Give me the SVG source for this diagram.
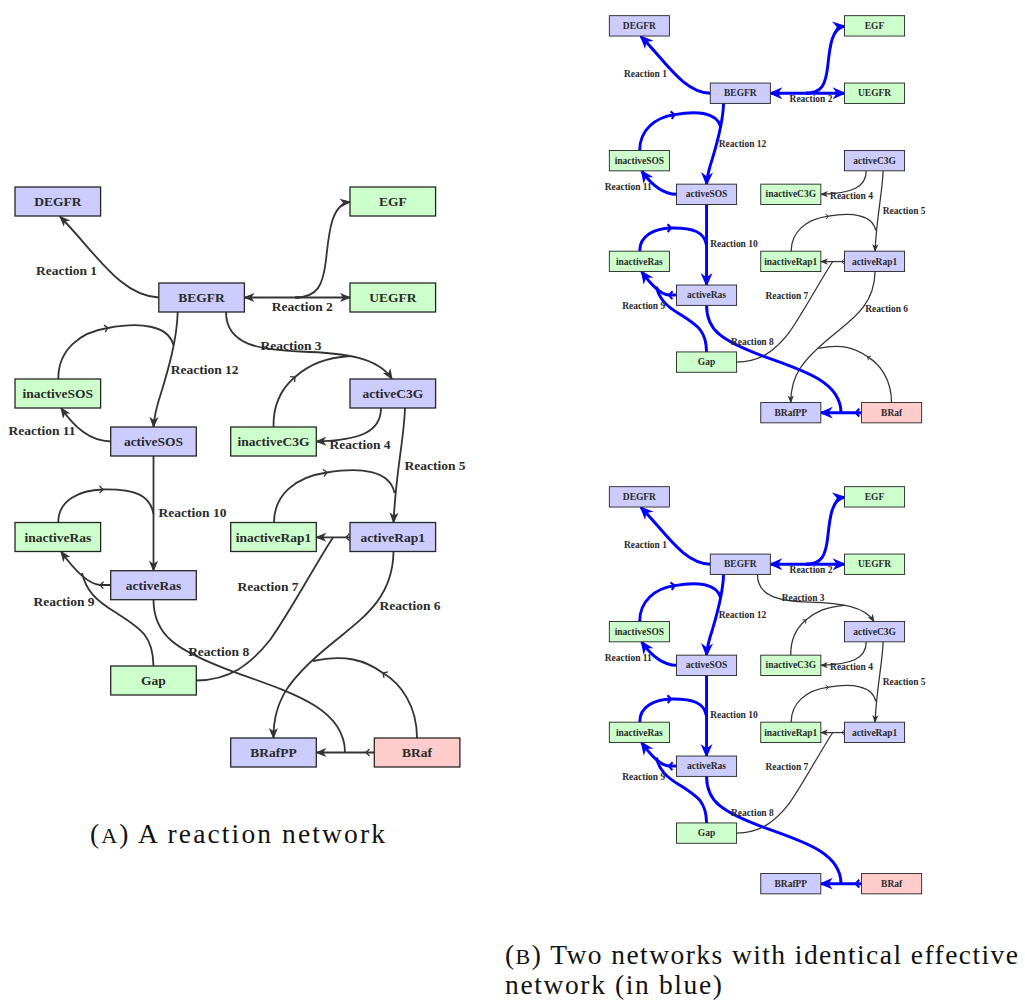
<svg xmlns="http://www.w3.org/2000/svg" width="1025" height="1001" viewBox="0 0 1025 1001">
<style>
.bl{fill:#ccccff;stroke:#262626;stroke-width:1.3}
.gr{fill:#ccffcc;stroke:#262626;stroke-width:1.3}
.rd{fill:#ffcccc;stroke:#262626;stroke-width:1.3}
.n,.l{font-family:"Liberation Serif",serif;font-weight:bold;font-size:13.5px;fill:#2a2a2a}
.n{text-anchor:middle}
.l{text-anchor:middle}
.e{fill:none;stroke:#333;stroke-width:1.8}
.b{fill:none;stroke:#0000ff;stroke-width:4.2}
.ea{marker-end:url(#arrD)}
.et{marker-mid:url(#tickD)}
.ba{marker-end:url(#arrB)}
.bt{marker-mid:url(#tickB)}
.cap{font-family:"Liberation Serif",serif;font-size:27.5px;fill:#111}
marker{overflow:visible}
</style>
<defs>
<marker id="arrD" viewBox="-11 -5 13 10" markerWidth="13" markerHeight="10" refX="0" refY="0" orient="auto" markerUnits="userSpaceOnUse"><path d="M1.2,0 L-10,-4.5 L-7,0 L-10,4.5 Z" fill="#333"/></marker>
<marker id="tickD" viewBox="-5 -5 7 10" markerWidth="7" markerHeight="10" refX="0" refY="0" orient="auto" markerUnits="userSpaceOnUse"><path d="M-3.5,-3.5 L0,0 L-3.5,3.5" fill="none" stroke="#333" stroke-width="1.3"/></marker>
<marker id="arrB" viewBox="-20 -9 23 18" markerWidth="23" markerHeight="18" refX="0" refY="0" orient="auto" markerUnits="userSpaceOnUse"><path d="M2.5,0 L-17,-8.5 L-11,0 L-17,8.5 Z" fill="#0000ff"/></marker>
<marker id="tickB" viewBox="-8 -8 10 16" markerWidth="10" markerHeight="16" refX="0" refY="0" orient="auto" markerUnits="userSpaceOnUse"><path d="M-5,-5.5 L0,0 L-5,5.5" fill="none" stroke="#0000ff" stroke-width="3"/></marker>
</defs>
<rect width="1025" height="1001" fill="#fff"/>

<!-- ===== Network A ===== -->
<g id="netA">
<g id="A-edges">
<path class="e ea" d="M158.8,297.5 C120,296 95,252 60,216.5"/>
<path class="e ea" d="M300,297.5 L244.4,297.5"/>
<path class="e ea" d="M295,297.5 L350,297.5"/>
<path class="e ea" d="M295,297.5 C318,297.5 323,285 326,260 C329,230 332,204 350,202"/>
<path class="e ea" d="M226,312 C226,345 260,350 300,351.5 C345,353 378,357 392,379"/>
<path class="e et" d="M273.5,427 C273,405 282,388 295,377 C310,364 325,358 350,356"/>
<path class="e ea" d="M381,408 C381,432 360,440 316.3,441.5"/>
<path class="e ea" d="M405,408 C404,440 396,470 393.5,522.5"/>
<path class="e et" d="M274,522.5 C274,495 295,477 327,472.5 C360,467 390,470 394.5,493"/>
<path class="e ea" d="M393.5,551.5 C393,600 360,620 330,645 C290,678 273,700 273.5,738"/>
<path class="e et" d="M417,738 C417,705 400,683 383,673 C365,660 345,654 313,661"/>
<path class="e et ea" d="M350,537.3 L346,537.3 L316.3,537.3"/>
<path class="e" d="M196.3,680.5 C230,680 250,665 270,640 C290,612 315,565 333,537.5"/>
<path class="e et ea" d="M374.3,752.5 L366,752.5 L316.3,752.5"/>
<path class="e" d="M153.5,599.7 C153.5,635 175,650 233,671.7 C290,692 345,708 345,752.5"/>
<path class="e et ea" d="M110.7,585 L100,585 C88,584 75,571 61,551.5"/>
<path class="e" d="M153.5,666 C153,635 140,628 115,612 C95,600 86,590 82,573"/>
<path class="e ea" d="M153.5,456 L153.5,570.7"/>
<path class="e et" d="M58.3,522.5 C58,500 80,490 103,489.5 C135,489 150,495 153.5,514"/>
<path class="e ea" d="M110.7,441.5 C90,441 75,428 61,408"/>
<path class="e ea" d="M177.7,312 C177,340 168,370 162,390 C157,405 154,415 153.5,427"/>
<path class="e et" d="M58.3,379 C58,350 80,332 108,328 C140,322 168,325 173.5,345"/>
</g>
<g id="A-labels">
<text class="l" x="66.5" y="275">Reaction 1</text>
<text class="l" x="302.3" y="310.5">Reaction 2</text>
<text class="l" x="291" y="349.5">Reaction 3</text>
<text class="l" x="360" y="448.8">Reaction 4</text>
<text class="l" x="435" y="469.5">Reaction 5</text>
<text class="l" x="410" y="609.5">Reaction 6</text>
<text class="l" x="268" y="590.5">Reaction 7</text>
<text class="l" x="218.7" y="655.5">Reaction 8</text>
<text class="l" x="64" y="605.5">Reaction 9</text>
<text class="l" x="192.5" y="517">Reaction 10</text>
<text class="l" x="42" y="435">Reaction 11</text>
<text class="l" x="204.7" y="373.5">Reaction 12</text>
</g>
<g id="A-DEGFR"><rect class="bl" x="15" y="187" width="85.6" height="29"/><text class="n" x="57.8" y="206">DEGFR</text></g>
<g id="A-EGF"><rect class="gr" x="350" y="187" width="85.6" height="29"/><text class="n" x="392.8" y="206">EGF</text></g>
<g id="A-BEGFR"><rect class="bl" x="158.8" y="283" width="85.6" height="29"/><text class="n" x="201.6" y="302">BEGFR</text></g>
<g id="A-UEGFR"><rect class="gr" x="350" y="283" width="85.6" height="29"/><text class="n" x="392.8" y="302">UEGFR</text></g>
<g id="A-inactiveSOS"><rect class="gr" x="15" y="379" width="85.6" height="29"/><text class="n" x="57.8" y="398">inactiveSOS</text></g>
<g id="A-activeSOS"><rect class="bl" x="110.7" y="427" width="85.6" height="29"/><text class="n" x="153.5" y="446">activeSOS</text></g>
<g id="A-activeC3G"><rect class="bl" x="350" y="379" width="85.6" height="29"/><text class="n" x="392.8" y="398">activeC3G</text></g>
<g id="A-inactiveC3G"><rect class="gr" x="230.7" y="427" width="85.6" height="29"/><text class="n" x="273.5" y="446">inactiveC3G</text></g>
<g id="A-inactiveRas"><rect class="gr" x="15" y="522.5" width="85.6" height="29"/><text class="n" x="57.8" y="541.5">inactiveRas</text></g>
<g id="A-activeRas"><rect class="bl" x="110.7" y="570.7" width="85.6" height="29"/><text class="n" x="153.5" y="589.7">activeRas</text></g>
<g id="A-inactiveRap1"><rect class="gr" x="230.7" y="522.5" width="85.6" height="29"/><text class="n" x="273.5" y="541.5">inactiveRap1</text></g>
<g id="A-activeRap1"><rect class="bl" x="350" y="522.5" width="85.6" height="29"/><text class="n" x="392.8" y="541.5">activeRap1</text></g>
<g id="A-Gap"><rect class="gr" x="110.7" y="666" width="85.6" height="29"/><text class="n" x="153.5" y="685">Gap</text></g>
<g id="A-BRafPP"><rect class="bl" x="230.7" y="738" width="85.6" height="29"/><text class="n" x="273.5" y="757">BRafPP</text></g>
<g id="A-BRaf"><rect class="rd" x="374.3" y="738" width="85.6" height="29"/><text class="n" x="417.1" y="757">BRaf</text></g>
</g>

<!-- ===== Network B1 (top right) ===== -->
<g id="netB1" transform="translate(598.8,-115.6) scale(0.702)">
<g id="B1-edges">
<path class="b ba" d="M158.8,297.5 C120,296 95,252 60,216.5"/>
<path class="b ba" d="M300,297.5 L244.4,297.5"/>
<path class="b ba" d="M295,297.5 L350,297.5"/>
<path class="b ba" d="M295,297.5 C318,297.5 323,285 326,260 C329,230 332,204 350,202"/>
<path class="e ea" d="M381,408 C381,432 360,440 316.3,441.5"/>
<path class="e ea" d="M405,408 C404,440 396,470 393.5,522.5"/>
<path class="e et" d="M274,522.5 C274,495 295,477 327,472.5 C360,467 390,470 394.5,493"/>
<path class="e ea" d="M393.5,551.5 C393,600 360,620 330,645 C290,678 273,700 273.5,738"/>
<path class="e et" d="M417,738 C417,705 400,683 383,673 C365,660 345,654 313,661"/>
<path class="e et ea" d="M350,537.3 L346,537.3 L316.3,537.3"/>
<path class="e" d="M196.3,680.5 C230,680 250,665 270,640 C290,612 315,565 333,537.5"/>
<path class="b bt ba" d="M374.3,752.5 L366,752.5 L316.3,752.5"/>
<path class="b" d="M153.5,599.7 C153.5,635 175,650 233,671.7 C290,692 345,708 345,752.5"/>
<path class="b bt ba" d="M110.7,585 L100,585 C88,584 75,571 61,551.5"/>
<path class="b" d="M153.5,666 C153,635 140,628 115,612 C95,600 86,590 82,573"/>
<path class="b ba" d="M153.5,456 L153.5,570.7"/>
<path class="b bt" d="M58.3,522.5 C58,500 80,490 103,489.5 C135,489 150,495 153.5,514"/>
<path class="b ba" d="M110.7,441.5 C90,441 75,428 61,408"/>
<path class="b ba" d="M177.7,312 C177,340 168,370 162,390 C157,405 154,415 153.5,427"/>
<path class="b bt" d="M58.3,379 C58,350 80,332 108,328 C140,322 168,325 173.5,345"/>
</g>
<g id="B1-labels">
<text class="l" x="66.5" y="275">Reaction 1</text>
<text class="l" x="302.3" y="310.5">Reaction 2</text>
<text class="l" x="360" y="448.8">Reaction 4</text>
<text class="l" x="435" y="469.5">Reaction 5</text>
<text class="l" x="410" y="609.5">Reaction 6</text>
<text class="l" x="268" y="590.5">Reaction 7</text>
<text class="l" x="218.7" y="655.5">Reaction 8</text>
<text class="l" x="64" y="605.5">Reaction 9</text>
<text class="l" x="192.5" y="517">Reaction 10</text>
<text class="l" x="42" y="435">Reaction 11</text>
<text class="l" x="204.7" y="373.5">Reaction 12</text>
</g>
<g id="B1-DEGFR"><rect class="bl" x="15" y="187" width="85.6" height="29"/><text class="n" x="57.8" y="206">DEGFR</text></g>
<g id="B1-EGF"><rect class="gr" x="350" y="187" width="85.6" height="29"/><text class="n" x="392.8" y="206">EGF</text></g>
<g id="B1-BEGFR"><rect class="bl" x="158.8" y="283" width="85.6" height="29"/><text class="n" x="201.6" y="302">BEGFR</text></g>
<g id="B1-UEGFR"><rect class="gr" x="350" y="283" width="85.6" height="29"/><text class="n" x="392.8" y="302">UEGFR</text></g>
<g id="B1-inactiveSOS"><rect class="gr" x="15" y="379" width="85.6" height="29"/><text class="n" x="57.8" y="398">inactiveSOS</text></g>
<g id="B1-activeSOS"><rect class="bl" x="110.7" y="427" width="85.6" height="29"/><text class="n" x="153.5" y="446">activeSOS</text></g>
<g id="B1-activeC3G"><rect class="bl" x="350" y="379" width="85.6" height="29"/><text class="n" x="392.8" y="398">activeC3G</text></g>
<g id="B1-inactiveC3G"><rect class="gr" x="230.7" y="427" width="85.6" height="29"/><text class="n" x="273.5" y="446">inactiveC3G</text></g>
<g id="B1-inactiveRas"><rect class="gr" x="15" y="522.5" width="85.6" height="29"/><text class="n" x="57.8" y="541.5">inactiveRas</text></g>
<g id="B1-activeRas"><rect class="bl" x="110.7" y="570.7" width="85.6" height="29"/><text class="n" x="153.5" y="589.7">activeRas</text></g>
<g id="B1-inactiveRap1"><rect class="gr" x="230.7" y="522.5" width="85.6" height="29"/><text class="n" x="273.5" y="541.5">inactiveRap1</text></g>
<g id="B1-activeRap1"><rect class="bl" x="350" y="522.5" width="85.6" height="29"/><text class="n" x="392.8" y="541.5">activeRap1</text></g>
<g id="B1-Gap"><rect class="gr" x="110.7" y="666" width="85.6" height="29"/><text class="n" x="153.5" y="685">Gap</text></g>
<g id="B1-BRafPP"><rect class="bl" x="230.7" y="738" width="85.6" height="29"/><text class="n" x="273.5" y="757">BRafPP</text></g>
<g id="B1-BRaf"><rect class="rd" x="374.3" y="738" width="85.6" height="29"/><text class="n" x="417.1" y="757">BRaf</text></g>
</g>

<!-- ===== Network B2 (bottom right) ===== -->
<g id="netB2" transform="translate(598.8,355.4) scale(0.702)">
<g id="B2-edges">
<path class="b ba" d="M158.8,297.5 C120,296 95,252 60,216.5"/>
<path class="b ba" d="M300,297.5 L244.4,297.5"/>
<path class="b ba" d="M295,297.5 L350,297.5"/>
<path class="b ba" d="M295,297.5 C318,297.5 323,285 326,260 C329,230 332,204 350,202"/>
<path class="e ea" d="M226,312 C226,345 260,350 300,351.5 C345,353 378,357 392,379"/>
<path class="e et" d="M273.5,427 C273,405 282,388 295,377 C310,364 325,358 350,356"/>
<path class="e ea" d="M381,408 C381,432 360,440 316.3,441.5"/>
<path class="e ea" d="M405,408 C404,440 396,470 393.5,522.5"/>
<path class="e et" d="M274,522.5 C274,495 295,477 327,472.5 C360,467 390,470 394.5,493"/>
<path class="e et ea" d="M350,537.3 L346,537.3 L316.3,537.3"/>
<path class="e" d="M196.3,680.5 C230,680 250,665 270,640 C290,612 315,565 333,537.5"/>
<path class="b bt ba" d="M374.3,752.5 L366,752.5 L316.3,752.5"/>
<path class="b" d="M153.5,599.7 C153.5,635 175,650 233,671.7 C290,692 345,708 345,752.5"/>
<path class="b bt ba" d="M110.7,585 L100,585 C88,584 75,571 61,551.5"/>
<path class="b" d="M153.5,666 C153,635 140,628 115,612 C95,600 86,590 82,573"/>
<path class="b ba" d="M153.5,456 L153.5,570.7"/>
<path class="b bt" d="M58.3,522.5 C58,500 80,490 103,489.5 C135,489 150,495 153.5,514"/>
<path class="b ba" d="M110.7,441.5 C90,441 75,428 61,408"/>
<path class="b ba" d="M177.7,312 C177,340 168,370 162,390 C157,405 154,415 153.5,427"/>
<path class="b bt" d="M58.3,379 C58,350 80,332 108,328 C140,322 168,325 173.5,345"/>
</g>
<g id="B2-labels">
<text class="l" x="66.5" y="275">Reaction 1</text>
<text class="l" x="302.3" y="310.5">Reaction 2</text>
<text class="l" x="291" y="349.5">Reaction 3</text>
<text class="l" x="360" y="448.8">Reaction 4</text>
<text class="l" x="435" y="469.5">Reaction 5</text>
<text class="l" x="268" y="590.5">Reaction 7</text>
<text class="l" x="218.7" y="655.5">Reaction 8</text>
<text class="l" x="64" y="605.5">Reaction 9</text>
<text class="l" x="192.5" y="517">Reaction 10</text>
<text class="l" x="42" y="435">Reaction 11</text>
<text class="l" x="204.7" y="373.5">Reaction 12</text>
</g>
<g id="B2-DEGFR"><rect class="bl" x="15" y="187" width="85.6" height="29"/><text class="n" x="57.8" y="206">DEGFR</text></g>
<g id="B2-EGF"><rect class="gr" x="350" y="187" width="85.6" height="29"/><text class="n" x="392.8" y="206">EGF</text></g>
<g id="B2-BEGFR"><rect class="bl" x="158.8" y="283" width="85.6" height="29"/><text class="n" x="201.6" y="302">BEGFR</text></g>
<g id="B2-UEGFR"><rect class="gr" x="350" y="283" width="85.6" height="29"/><text class="n" x="392.8" y="302">UEGFR</text></g>
<g id="B2-inactiveSOS"><rect class="gr" x="15" y="379" width="85.6" height="29"/><text class="n" x="57.8" y="398">inactiveSOS</text></g>
<g id="B2-activeSOS"><rect class="bl" x="110.7" y="427" width="85.6" height="29"/><text class="n" x="153.5" y="446">activeSOS</text></g>
<g id="B2-activeC3G"><rect class="bl" x="350" y="379" width="85.6" height="29"/><text class="n" x="392.8" y="398">activeC3G</text></g>
<g id="B2-inactiveC3G"><rect class="gr" x="230.7" y="427" width="85.6" height="29"/><text class="n" x="273.5" y="446">inactiveC3G</text></g>
<g id="B2-inactiveRas"><rect class="gr" x="15" y="522.5" width="85.6" height="29"/><text class="n" x="57.8" y="541.5">inactiveRas</text></g>
<g id="B2-activeRas"><rect class="bl" x="110.7" y="570.7" width="85.6" height="29"/><text class="n" x="153.5" y="589.7">activeRas</text></g>
<g id="B2-inactiveRap1"><rect class="gr" x="230.7" y="522.5" width="85.6" height="29"/><text class="n" x="273.5" y="541.5">inactiveRap1</text></g>
<g id="B2-activeRap1"><rect class="bl" x="350" y="522.5" width="85.6" height="29"/><text class="n" x="392.8" y="541.5">activeRap1</text></g>
<g id="B2-Gap"><rect class="gr" x="110.7" y="666" width="85.6" height="29"/><text class="n" x="153.5" y="685">Gap</text></g>
<g id="B2-BRafPP"><rect class="bl" x="230.7" y="738" width="85.6" height="29"/><text class="n" x="273.5" y="757">BRafPP</text></g>
<g id="B2-BRaf"><rect class="rd" x="374.3" y="738" width="85.6" height="29"/><text class="n" x="417.1" y="757">BRaf</text></g>
</g>

<!-- captions -->
<g id="captions">
<text class="cap" x="90" y="843" textLength="295" lengthAdjust="spacing">(<tspan font-size="22">A</tspan>) A reaction network</text>
<text class="cap" x="505" y="964" textLength="513" lengthAdjust="spacing">(<tspan font-size="22">B</tspan>) Two networks with identical effective</text>
<text class="cap" x="505" y="993.5" textLength="217" lengthAdjust="spacing">network (in blue)</text>
</g>
</svg>
